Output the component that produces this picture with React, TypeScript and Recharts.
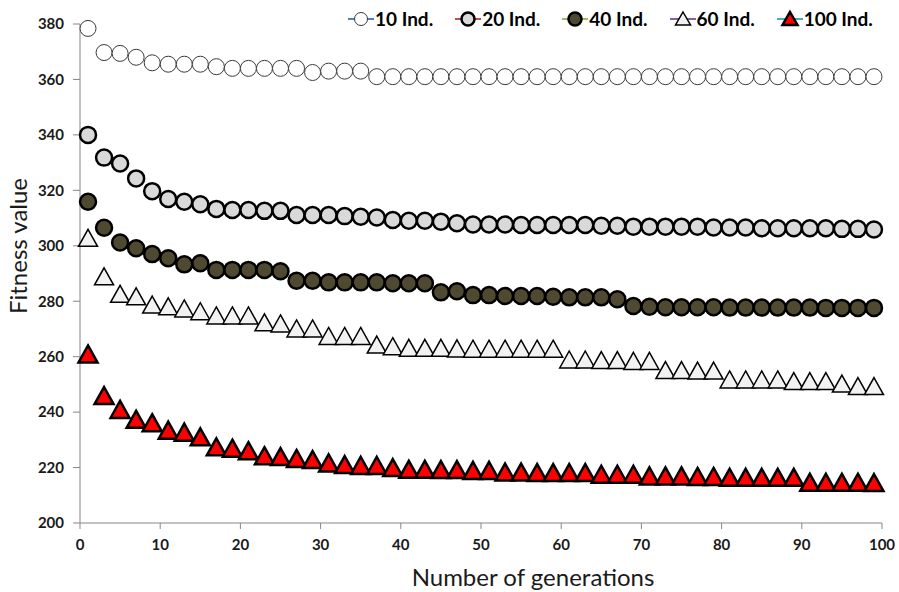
import { Label, Legend, Line, LineChart, XAxis, YAxis } from "recharts";

// generation index (odd generations only are plotted)
const GENERATIONS = [
  1, 3, 5, 7, 9, 11, 13, 15, 17, 19, 21, 23, 25, 27, 29, 31, 33, 35, 37, 39, 41, 43, 45, 47, 49,
  51, 53, 55, 57, 59, 61, 63, 65, 67, 69, 71, 73, 75, 77, 79, 81, 83, 85, 87, 89, 91, 93, 95, 97, 99,
];

const IND_10 = [
  378.4, 369.7, 369.4, 368, 366, 365.5, 365.5, 365.5, 364.6, 364, 364, 364, 364, 364, 362.5, 363, 363,
  363, 361, 361, 361, 361, 361, 361, 361, 361, 361, 361, 361, 361, 361, 361, 361, 361, 361, 361, 361,
  361, 361, 361, 361, 361, 361, 361, 361, 361, 361, 361, 361, 361,
];

const IND_20 = [
  340, 331.8, 329.7, 324.3, 319.7, 316.9, 315.9, 315, 313.3, 312.9, 312.9, 312.6, 312.6, 311.1, 311.1,
  311.1, 310.7, 310.5, 310.2, 309.3, 309, 309, 308.7, 308.1, 307.7, 307.7, 307.7, 307.5, 307.5, 307.5,
  307.5, 307.5, 307.2, 307.2, 306.9, 306.9, 306.9, 306.9, 306.9, 306.6, 306.6, 306.6, 306.3, 306.3,
  306.3, 306.3, 306.3, 306.1, 306.1, 305.9,
];

const IND_40 = [
  315.9, 306.5, 301.2, 299.1, 297, 295.5, 293.3, 293.7, 291.3, 291.3, 291.3, 291.3, 290.8, 287.4, 287.4,
  286.8, 286.8, 286.8, 286.8, 286.5, 286.5, 286.5, 283.2, 283.6, 282.2, 282.2, 281.9, 281.9, 281.9,
  281.6, 281.4, 281.4, 281.4, 280.7, 278.3, 278, 277.8, 277.8, 277.8, 277.8, 277.7, 277.7, 277.7, 277.7,
  277.7, 277.7, 277.6, 277.6, 277.6, 277.6,
];

const IND_60 = [
  302.7, 288.8, 282.5, 281.6, 278.6, 278, 277.2, 276.2, 274.7, 274.7, 274.7, 272.2, 271.8, 270, 270,
  267.3, 267.3, 267.3, 264.2, 263.6, 263, 263, 263, 262.8, 262.7, 262.7, 262.7, 262.7, 262.7, 262.7,
  258.8, 258.8, 258.6, 258.6, 258.3, 258.3, 255, 255, 254.8, 254.8, 251.6, 251.6, 251.6, 251.6, 251,
  251, 251, 250.1, 249.2, 249.2,
];

const IND_100 = [
  260.8, 245.8, 240.8, 237.2, 236, 233.3, 232.6, 230.9, 227.3, 226.8, 225.9, 224.1, 223.8, 223.1, 222.7,
  221.5, 220.9, 220.6, 220.6, 219.8, 219.2, 219.2, 219.1, 219.1, 218.8, 218.8, 218.2, 218.2, 218, 218,
  218, 218, 217.4, 217.4, 217.4, 216.8, 216.8, 216.8, 216.6, 216.6, 216.3, 216.3, 216.3, 216.3, 216.3,
  214.5, 214.5, 214.5, 214.5, 214.4,
];

const X_TICKS = [0, 10, 20, 30, 40, 50, 60, 70, 80, 90, 100];
const Y_TICKS = [200, 220, 240, 260, 280, 300, 320, 340, 360, 380];

type Shape = "circle" | "triangle";

type SeriesDef = {
  key: string;
  name: string;
  shape: Shape;
  fill: string;
  stroke: string;
  strokeWidth: number;
  legendLine: string;
};

const SERIES: SeriesDef[] = [
  { key: "s10", name: "10 Ind.", shape: "circle", fill: "#ffffff", stroke: "#3a3a3a", strokeWidth: 1, legendLine: "#4f81bd" },
  { key: "s20", name: "20 Ind.", shape: "circle", fill: "#d9d9d9", stroke: "#000000", strokeWidth: 2.5, legendLine: "#c0504d" },
  { key: "s40", name: "40 Ind.", shape: "circle", fill: "#4f4931", stroke: "#000000", strokeWidth: 2.5, legendLine: "#9bbb59" },
  { key: "s60", name: "60 Ind.", shape: "triangle", fill: "#f2f2f2", stroke: "#000000", strokeWidth: 1.5, legendLine: "#8064a2" },
  { key: "s100", name: "100 Ind.", shape: "triangle", fill: "#ff0000", stroke: "#000000", strokeWidth: 2.5, legendLine: "#4bacc6" },
];

const rows = GENERATIONS.map((g, i) => ({
  gen: g,
  s10: IND_10[i],
  s20: IND_20[i],
  s40: IND_40[i],
  s60: IND_60[i],
  s100: IND_100[i],
}));

const FONT = "Lato, 'Open Sans', sans-serif";

function Marker({ s, cx, cy, size }: { s: SeriesDef; cx: number; cy: number; size: number }) {
  if (s.shape === "circle") {
    return <circle cx={cx} cy={cy} r={size / 2} fill={s.fill} stroke={s.stroke} strokeWidth={s.strokeWidth} />;
  }
  const h = size / 2;
  const pts = `${cx},${cy - h} ${cx + h + 0.5},${cy + h - 1} ${cx - h - 0.5},${cy + h - 1}`;
  return <polygon points={pts} fill={s.fill} stroke={s.stroke} strokeWidth={s.strokeWidth} strokeLinejoin="miter" />;
}

function makeDot(s: SeriesDef) {
  return (props: any) => {
    const { cx, cy, index } = props;
    if (cx == null || cy == null) return <g key={`${s.key}-${index}`} />;
    return (
      <g key={`${s.key}-${index}`}>
        <Marker s={s} cx={cx} cy={cy} size={s.shape === "circle" ? 16 : 18} />
      </g>
    );
  };
}

function LegendContent() {
  return (
    <div style={{ display: "flex", alignItems: "center", fontFamily: FONT, fontWeight: 700, fontSize: 19, color: "#000" }}>
      {SERIES.map((s) => (
        <div key={s.key} style={{ display: "flex", alignItems: "center", marginRight: 22 }}>
          <svg width={26} height={22} style={{ display: "block" }}>
            <line x1={0} y1={11} x2={26} y2={11} stroke={s.legendLine} strokeWidth={2} />
            <Marker s={s} cx={13} cy={11} size={s.shape === "circle" ? 13 : 14} />
          </svg>
          <span style={{ marginLeft: 1 }}>{s.name}</span>
        </div>
      ))}
    </div>
  );
}

export default function App() {
  return (
    <div style={{ position: "absolute", left: 0, top: 0, width: 899, height: 592, background: "#fff" }}>
      <LineChart width={899} height={592} data={rows} margin={{ top: 24, right: 17, bottom: 39, left: 20 }}>
        <XAxis
          dataKey="gen"
          type="number"
          domain={[0, 100]}
          ticks={X_TICKS}
          height={30}
          axisLine={{ stroke: "#868686" }}
          tickLine={{ stroke: "#868686" }}
          tickSize={6}
          tickMargin={10}
          tick={{ fill: "#1a1a1a", fontSize: 15, fontWeight: 700, fontFamily: FONT }}
        >
          <Label
            content={() => (
              <text x={533} y={586} textAnchor="middle" fontFamily={FONT} fontSize={24} fill="#1a1a1a">
                Number of generations
              </text>
            )}
          />
        </XAxis>
        <YAxis
          type="number"
          domain={[200, 380]}
          ticks={Y_TICKS}
          width={60}
          axisLine={{ stroke: "#868686" }}
          tickLine={{ stroke: "#868686" }}
          tickSize={7}
          tickMargin={9}
          tick={{ fill: "#1a1a1a", fontSize: 15, fontWeight: 700, fontFamily: FONT }}
        >
          <Label
            content={() => (
              <text
                x={27}
                y={246}
                transform="rotate(-90 27 246)"
                textAnchor="middle"
                fontFamily={FONT}
                fontSize={24}
                fill="#1a1a1a"
              >
                Fitness value
              </text>
            )}
          />
        </YAxis>
        <Legend
          layout="horizontal"
          verticalAlign="middle"
          align="center"
          content={() => <LegendContent />}
          wrapperStyle={{ top: 7, left: 348, width: 560 }}
        />
        {SERIES.map((s) => (
          <Line
            key={s.key}
            dataKey={s.key}
            name={s.name}
            stroke="none"
            strokeWidth={0}
            dot={makeDot(s)}
            activeDot={false}
            legendType="none"
            isAnimationActive={false}
          />
        ))}
      </LineChart>
    </div>
  );
}
